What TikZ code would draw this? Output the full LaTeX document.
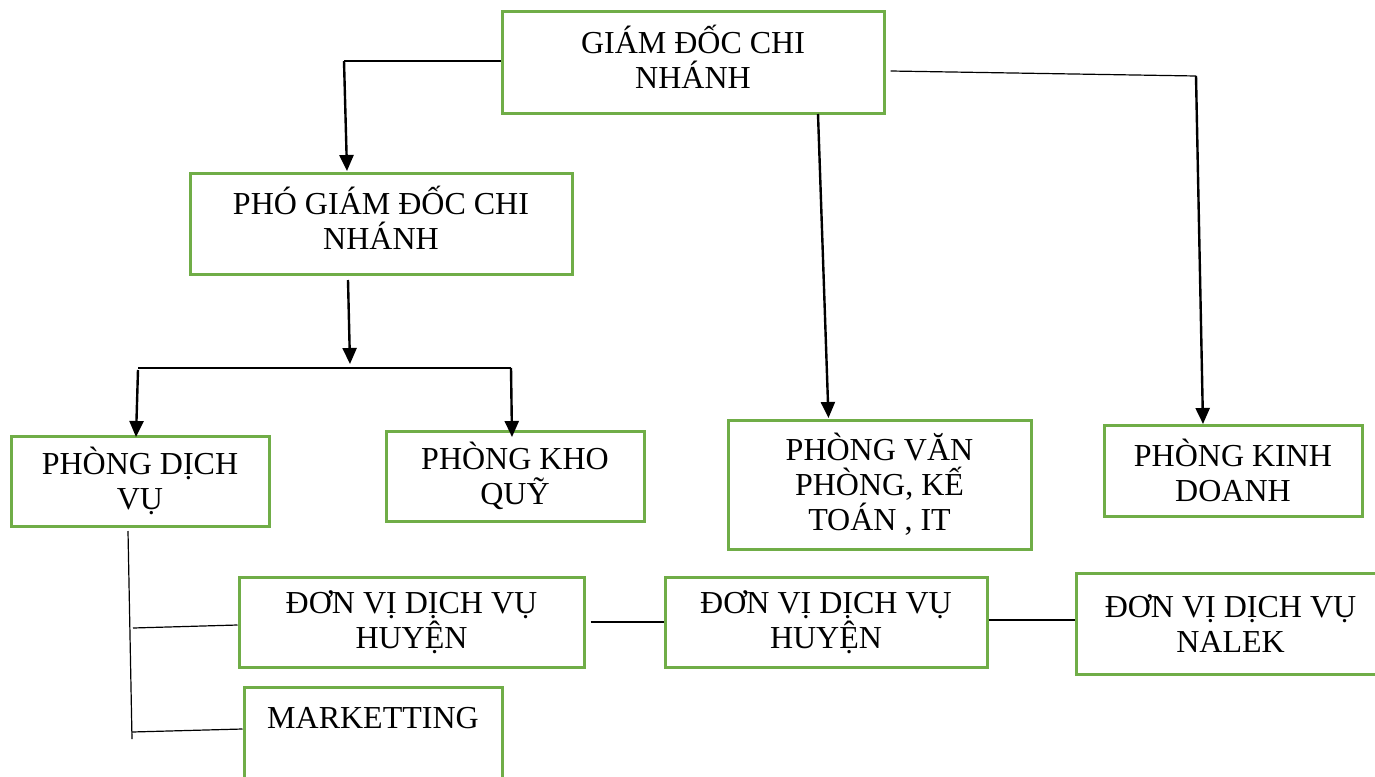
\documentclass[tikz,border=0pt]{standalone}
\usepackage{fontspec}
\setmainfont{Liberation Serif}
\usetikzlibrary{arrows.meta}
\definecolor{boxgreen}{RGB}{112,173,71}
\tikzset{
  box/.style={draw=boxgreen, line width=3pt, fill=white, inner sep=0pt, align=center,
    font=\fontsize{32}{35}\selectfont},
  boxup/.style={box, execute at end node={\rule[-12pt]{0pt}{0pt}}},
  lbl/.style={inner sep=0pt, align=center, font=\fontsize{32}{35}\selectfont},
  thin/.style={draw=black, line width=1.2pt},
  arr/.style={draw=black, line width=2.4pt, -{Triangle[length=16pt,width=14pt]}},
}
\begin{document}
\begin{tikzpicture}[x=1pt,y=-1pt]
\fill[white] (0,0) rectangle (1375,776);
\clip (0,0) rectangle (1375,776);
\useasboundingbox (0,0) rectangle (1375,776);

% boxes
\node[boxup, minimum width=382, minimum height=101] (gd) at (693,62.5) {GIÁM ĐỐC CHI\\NHÁNH};
\node[boxup, minimum width=382, minimum height=101] (pgd) at (381,223.5) {PHÓ GIÁM ĐỐC CHI\\NHÁNH};
\node[box, minimum width=258, minimum height=90] (dv) at (140,481) {PHÒNG DỊCH\\VỤ};
\node[box, minimum width=258, minimum height=90] (kq) at (515,476) {PHÒNG KHO\\QUỸ};
\node[box, minimum width=303, minimum height=129] (vp) at (879.5,484.5) {PHÒNG VĂN\\PHÒNG, KẾ\\TOÁN , IT};
\node[box, minimum width=258, minimum height=91] (kd) at (1233,470.5) {PHÒNG KINH\\DOANH};
\node[box, minimum width=345, minimum height=90] (h1) at (411.5,622) {ĐƠN VỊ DỊCH VỤ\\HUYỆN};
\node[box, minimum width=322, minimum height=90] (h2) at (826,622) {ĐƠN VỊ DỊCH VỤ\\HUYỆN};
\node[box, minimum width=309, minimum height=101] (nl) at (1230.5,623.5) {ĐƠN VỊ DỊCH VỤ\\NALEK};
\node[box, minimum width=258, minimum height=120] (mk) at (373,747) {};
\node[lbl] (mkt) at (373,718) {MARKETTING};

% junction coordinates
\coordinate (j1) at (344,61);
\coordinate (j2) at (1196,76);
\coordinate (j3) at (350,364);
\coordinate (jl) at (138,368);
\coordinate (jr) at (511,368);
\coordinate (v1) at (128,531);
\coordinate (v2) at (132,739);
\coordinate (b1) at (133,628);
\coordinate (b2) at (132,732);

% connectors from GD
\draw[thin] (gd.west |- 0,61) -- (j1);
\draw[arr] (j1) -- ([xshift=-34pt]pgd.north |- 0,171);
\draw[arr] ([xshift=125pt]gd.south |- 0,114) -- ([xshift=-51pt]vp.north |- 0,418);
\draw[thin] ([xshift=5pt]gd.east |- 0,71) -- (j2);
\draw[arr] (j2) -- ([xshift=-30pt]kd.north |- 0,424);

% PGD branch
\draw[arr] ([xshift=-33pt]pgd.south |- 0,280) -- (j3);
\draw[thin] (jl) -- (jr);
\draw[arr] (jl |- 0,370) -- ([xshift=-4pt]dv.north |- 0,437);
\draw[arr] (jr) -- ([xshift=-3pt]kq.north |- 0,437);

% Phong dich vu branch
\draw[thin] (v1) -- (v2);
\draw[thin] (b1) -- (h1.west |- 0,625);
\draw[thin] (b2) -- (mk.west |- 0,729);

% horizontal links
\draw[thin] ([xshift=5pt]h1.east |- 0,622) -- (h2.west |- 0,622);
\draw[thin] (h2.east |- 0,620) -- (nl.west |- 0,620);
\end{tikzpicture}
\end{document}
